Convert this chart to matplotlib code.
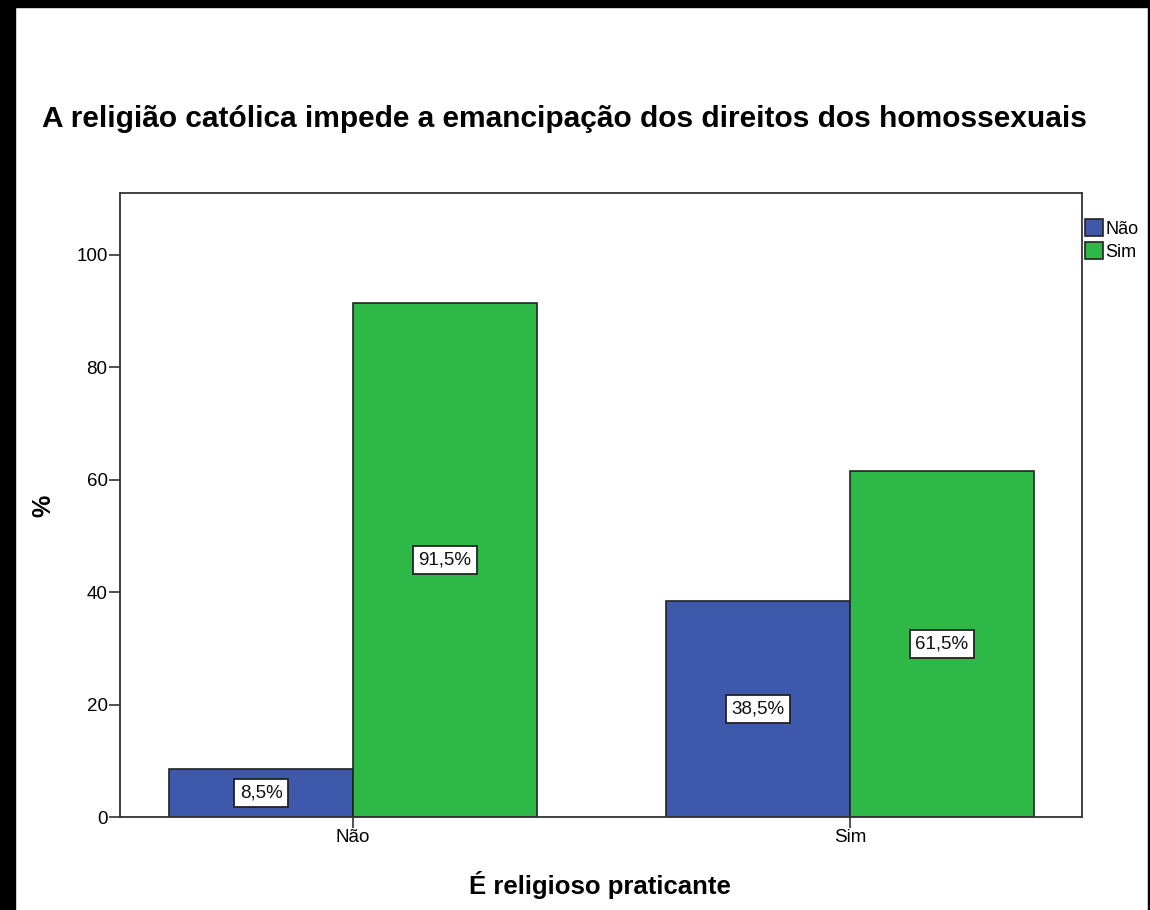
import matplotlib
matplotlib.use("Agg")
import matplotlib.pyplot as plt
from matplotlib.patches import Rectangle
import numpy as np

plt.rcParams['font.family'] = ['Liberation Sans', 'DejaVu Sans']

categories = ["Não", "Sim"]
series_names = ["Não", "Sim"]
values_nao = [8.5, 38.5]
values_sim = [91.5, 61.5]
yticks = [0, 20, 40, 60, 80, 100]

colors = ["#3E58AC", "#2EB848"]

W, H = 1150, 910
fig = plt.figure(figsize=(W/100, H/100), dpi=100)
ax = fig.add_axes([120/W, 1-817/H, (1082-120)/W, (817-193)/H])

x = np.arange(len(categories))
bw = 0.37
series = [values_nao, values_sim]
for i, (vals, name) in enumerate(zip(series, series_names)):
    offs = (i - 0.5) * bw
    ax.bar(x + offs, vals, width=bw, color=colors[i], edgecolor="#222222",
           linewidth=1.2, label=name, zorder=2)
    for xi, v in zip(x + offs, vals):
        ax.text(xi, v/2, f"{v:.1f}".replace(".", ",") + "%", ha="center", va="center",
                fontsize=13.5, color="#111111", zorder=3,
                bbox=dict(boxstyle="square,pad=0.3", fc="white", ec="#222222", lw=1.3))

ax.set_xlim(-0.469, 1.467)
ax.set_ylim(0, 111)
ax.set_xticks(x)
ax.set_xticklabels(categories, fontsize=13.5)
ax.set_yticks(yticks)
ax.set_yticklabels([str(t) for t in yticks], fontsize=13.5)
ax.tick_params(axis='both', length=8, width=1.2, color="#333333", pad=1)
for s in ax.spines.values():
    s.set_linewidth(1.3)
    s.set_color("#333333")

fig.text(600/W, 1-885/H, "É religioso praticante", fontsize=18.5, fontweight="bold",
         ha="center", va="center")
fig.text(43/W, 1-506/H, "%", rotation=90, fontsize=18, fontweight="bold",
         ha="center", va="center")

fig.text(42/W, 1-119/H, "A religião católica impede a emancipação dos direitos dos homossexuais",
         fontsize=21.5, fontweight="bold", ha="left", va="center")

leg = ax.legend(loc="upper left", bbox_to_anchor=(1085/W, 1-219/H),
                bbox_transform=fig.transFigure, frameon=False,
                fontsize=13, handlelength=1.0, handleheight=1.1, handletextpad=0.12,
                labelspacing=0.22, borderaxespad=0.0, borderpad=0.0)
for p in leg.get_patches():
    p.set_edgecolor("#222222")
    p.set_linewidth(1.2)

# black frame edges
fig.patches.append(Rectangle((0, 1-7/H), 1, 7/H, transform=fig.transFigure, color="black", zorder=10))
fig.patches.append(Rectangle((0, 0), 15/W, 1, transform=fig.transFigure, color="black", zorder=10))
fig.patches.append(Rectangle((1-2/W, 0), 2/W, 1, transform=fig.transFigure, color="black", zorder=10))

fig.savefig("out.png", dpi=100)
